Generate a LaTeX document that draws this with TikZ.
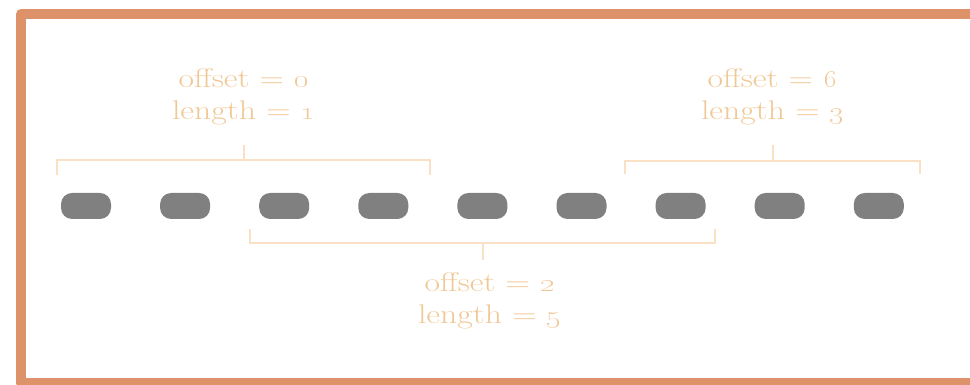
\documentclass[tikz,border=0pt]{standalone}
\usepackage{graphicx}
\usetikzlibrary{positioning}

\definecolor{framecol}{RGB}{222,146,106}
\definecolor{textcol}{RGB}{240,200,150}
\definecolor{bracecol}{RGB}{250,225,198}
\definecolor{pillcol}{RGB}{128,128,128}
\newcommand{\wideline}[1]{\scalebox{1.25}[1]{#1}}

\begin{document}
\begin{tikzpicture}[
    x=1pt, y=1pt,
    pill/.style={rectangle, fill=pillcol, rounded corners=11pt, minimum width=50pt, minimum height=26pt, inner sep=0pt},
    brace/.style={draw=bracecol, line width=2pt},
    lbl/.style={text=textcol, align=center, inner sep=0pt, font=\fontsize{27}{32}\selectfont}
]
    \useasboundingbox (0,0) rectangle (970,385);
    \begin{scope}
        \clip (0,0) rectangle (970,385);
        \draw[framecol, line width=10.5pt, line join=round] (21,2) rectangle (1000,370.75);
    \end{scope}

    % the items
    \foreach \i in {0,...,8}
        \node[pill] (p\i) at (86+99.1*\i, 179) {};

    % bracket over the first run
    \coordinate (aL) at (57,210);
    \coordinate (aR) at (430,210);
    \coordinate (aMid) at (243.5,225);
    \coordinate (aTip) at (243.5,240);
    \draw[brace] (aL) -- ++(0,15) -| (aR);
    \draw[brace] (aMid) -- (aTip);
    \node[lbl, above=20pt of aTip] (lblA) {\wideline{offset = \oldstylenums{0}}\\\wideline{length = \oldstylenums{1}}};

    % bracket over the last run
    \coordinate (bL) at (625,211);
    \coordinate (bR) at (920,211);
    \coordinate (bMid) at (772.5,224);
    \coordinate (bTip) at (772.5,240);
    \draw[brace] (bL) -- ++(0,13) -| (bR);
    \draw[brace] (bMid) -- (bTip);
    \node[lbl, above=20pt of bTip] (lblB) {\wideline{offset = \oldstylenums{6}}\\\wideline{length = \oldstylenums{3}}};

    % bracket under the middle run
    \coordinate (cL) at (250,156);
    \coordinate (cR) at (715,156);
    \coordinate (cMid) at (482.5,142);
    \coordinate (cTip) at (482.5,125);
    \draw[brace] (cL) -- ++(0,-14) -| (cR);
    \draw[brace] (cMid) -- (cTip);
    \node[lbl, below=12pt of cTip, xshift=7pt] (lblC) {\wideline{offset = \oldstylenums{2}}\\\wideline{length = \oldstylenums{5}}};
\end{tikzpicture}
\end{document}
